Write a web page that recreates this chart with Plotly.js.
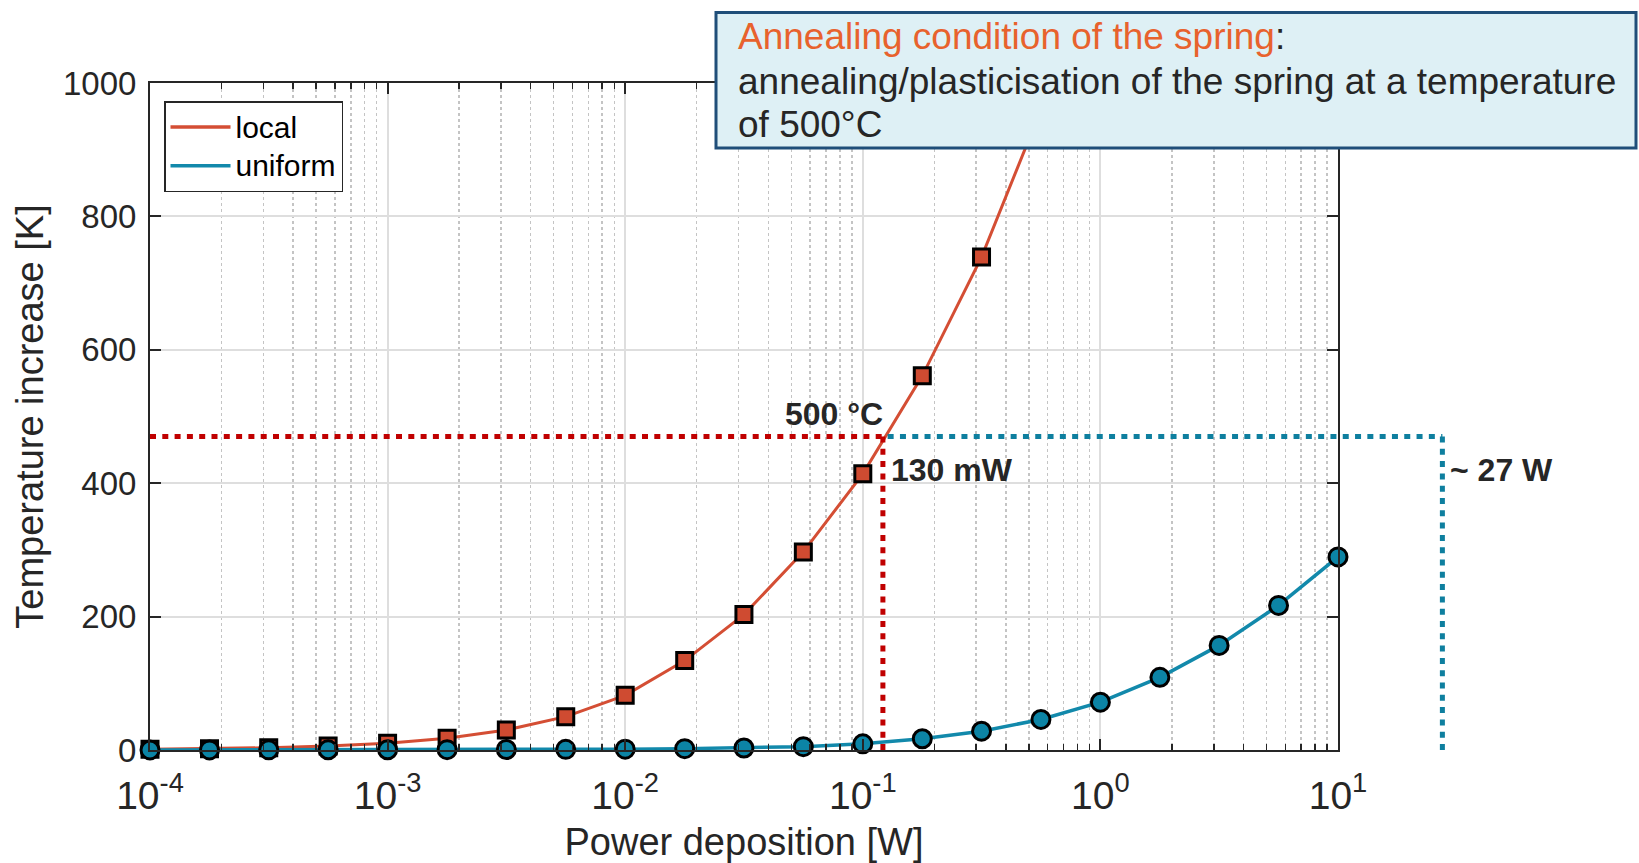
<!DOCTYPE html>
<html>
<head>
<meta charset="utf-8">
<script src="https://cdn.plot.ly/plotly-3.0.1.min.js"></script>
<style>
html,body{margin:0;padding:0;background:#ffffff;}
#chart{width:1639px;height:863px;}
</style>
</head>
<body>
<div id="chart"></div>
<script>
// ---------------- data ----------------
const power = [1.0e-4, 1.78e-4, 3.16e-4, 5.62e-4,
               1.0e-3, 1.78e-3, 3.16e-3, 5.62e-3,
               1.0e-2, 1.78e-2, 3.16e-2, 5.62e-2,
               0.1, 0.178, 0.316, 0.562,
               1.0, 1.78, 3.16, 5.62, 10.0];
const localPower = [1.0e-4, 1.78e-4, 3.16e-4, 5.62e-4,
                    1.0e-3, 1.78e-3, 3.16e-3, 5.62e-3,
                    1.0e-2, 1.78e-2, 3.16e-2, 5.62e-2,
                    0.1, 0.178, 0.316, 0.562];
const localTemp = [1, 2, 3.5, 6, 10, 17.5, 30, 50, 82, 134, 203, 297, 414, 561, 739, 960];
const uniformTemp = [0.1, 0.15, 0.2, 0.3, 0.4, 0.5, 0.7, 1, 1.3, 2, 3, 5, 9.3, 16.8, 28.2, 45.8, 71.7, 109, 156.8, 216.8, 289.5];
const seriesNames = ['local', 'uniform'];
const xTickVals = [1e-4, 1e-3, 1e-2, 1e-1, 1, 10];
const xTickText = ['10<sup>-4</sup>', '10<sup>-3</sup>', '10<sup>-2</sup>', '10<sup>-1</sup>', '10<sup>0</sup>', '10<sup>1</sup>'];
const yTickVals = [0, 200, 400, 600, 800, 1000];
const xRangeLog = [-4, 1];
const yRange = [0, 1000];
// annotation values
const thresholdK = 470;       // 500 °C line (temperature increase)
const powerLocal = 0.1215;    // 130 mW
const powerUniform = 27.5;    // ~27 W
const labelThreshold = '500 °C';
const labelLocal = '130 mW';
const labelUniform = '~ 27 W';
const boxTitle = 'Annealing condition of the spring';
const boxLine2 = 'annealing/plasticisation of the spring at a temperature';
const boxLine3 = 'of 500°C';

// ---------------- style ----------------
const FONT = 'Liberation Sans, Arial, Helvetica, sans-serif';
const TXT = '#262626';
const C_LOCAL = '#D44E34';
const C_LOCAL_FILL = '#CF4B31';
const C_UNI = '#1289AB';
const C_UNI_FILL = '#0C84A5';
const C_RED_DOT = '#C00000';
const C_TEAL_DOT = '#0E7F9F';

const M = {l: 150, r: 301, t: 83, b: 113};
const FIG_W = 1639, FIG_H = 863;
const PW = FIG_W - M.l - M.r, PH = FIG_H - M.t - M.b;
const px2x = px => (px - M.l) / PW;
const py2y = py => (FIG_H - M.b - py) / PH;
const logPaper = v => (Math.log10(v) - xRangeLog[0]) / (xRangeLog[1] - xRangeLog[0]);
const legendName = s => '<span style="font-size:30px">' + s + '</span>';

const traces = [
  {x: localPower, y: localTemp, type: 'scatter', mode: 'lines+markers', name: seriesNames[0], showlegend: false,
   line: {color: C_LOCAL, width: 3}, cliponaxis: false,
   marker: {symbol: 'square', size: 16, color: C_LOCAL_FILL, line: {color: '#000000', width: 3}}},
  {x: power, y: uniformTemp, type: 'scatter', mode: 'lines+markers', name: seriesNames[1], showlegend: false,
   line: {color: C_UNI, width: 3.5}, cliponaxis: false,
   marker: {symbol: 'circle', size: 18, color: C_UNI_FILL, line: {color: '#000000', width: 3}}},
  {x: [null], y: [null], type: 'scatter', mode: 'lines', name: legendName(seriesNames[0]), showlegend: true,
   line: {color: C_LOCAL, width: 3.5}},
  {x: [null], y: [null], type: 'scatter', mode: 'lines', name: legendName(seriesNames[1]), showlegend: true,
   line: {color: C_UNI, width: 3.5}}
];

const dotLine = (color) => ({color: color, width: 5, dash: '6px,6.3px'});

const shapes = [
  {type: 'line', xref: 'x', yref: 'y', x0: xTickVals[0], x1: powerLocal, y0: thresholdK, y1: thresholdK,
   line: dotLine(C_RED_DOT), layer: 'above'},
  {type: 'line', xref: 'x', yref: 'y', x0: powerLocal, x1: powerLocal, y0: thresholdK, y1: 0,
   line: dotLine(C_RED_DOT), layer: 'above'},
  {type: 'line', xref: 'paper', yref: 'y', x0: logPaper(powerLocal) + 0.004, x1: logPaper(powerUniform), y0: thresholdK, y1: thresholdK,
   line: dotLine(C_TEAL_DOT), layer: 'above'},
  {type: 'line', xref: 'paper', yref: 'y', x0: logPaper(powerUniform), x1: logPaper(powerUniform), y0: thresholdK, y1: 0,
   line: dotLine(C_TEAL_DOT), layer: 'above'},
  {type: 'rect', xref: 'paper', yref: 'paper', x0: px2x(716), x1: px2x(1636), y0: py2y(148), y1: py2y(12.5),
   fillcolor: '#DEF0F5', line: {color: '#1F4E79', width: 3}, layer: 'above'}
];

const BOX_FONT = 37;
const annotations = [
  {xref: 'paper', yref: 'paper', x: px2x(736), y: py2y(36), xanchor: 'left', yanchor: 'middle', showarrow: false,
   text: '<span style="color:#E8622D">' + boxTitle + '</span>:', font: {family: FONT, size: BOX_FONT, color: TXT}},
  {xref: 'paper', yref: 'paper', x: px2x(736), y: py2y(81), xanchor: 'left', yanchor: 'middle', showarrow: false,
   text: boxLine2, font: {family: FONT, size: BOX_FONT, color: TXT}},
  {xref: 'paper', yref: 'paper', x: px2x(736), y: py2y(125), xanchor: 'left', yanchor: 'middle', showarrow: false,
   text: boxLine3, font: {family: FONT, size: BOX_FONT, color: TXT}},
  {xref: 'x', yref: 'y', x: Math.log10(powerLocal), y: thresholdK, xanchor: 'right', yanchor: 'bottom', showarrow: false,
   xshift: 2, yshift: 3, text: '<b>' + labelThreshold + '</b>', font: {family: FONT, size: 32, color: TXT}},
  {xref: 'x', yref: 'y', x: Math.log10(powerLocal), y: 420, xanchor: 'left', yanchor: 'middle', showarrow: false,
   xshift: 6, text: '<b>' + labelLocal + '</b>', font: {family: FONT, size: 32, color: TXT}},
  {xref: 'paper', yref: 'y', x: logPaper(powerUniform), y: 420, xanchor: 'left', yanchor: 'middle', showarrow: false,
   xshift: 6, text: '<b>' + labelUniform + '</b>', font: {family: FONT, size: 32, color: TXT}}
];

const layout = {
  width: FIG_W, height: FIG_H,
  margin: M,
  paper_bgcolor: '#ffffff', plot_bgcolor: '#ffffff',
  font: {family: FONT, color: TXT, size: 32},
  showlegend: true,
  legend: {x: px2x(164), y: py2y(101), xanchor: 'left', yanchor: 'top',
           bgcolor: '#ffffff', bordercolor: '#262626', borderwidth: 1.5,
           font: {family: FONT, size: 27.5, color: '#000000'}, itemwidth: 60, tracegroupgap: 0},
  xaxis: {
    type: 'log', range: xRangeLog, autorange: false,
    tickmode: 'array', tickvals: xTickVals, ticktext: xTickText,
    ticks: 'inside', ticklen: 11, tickwidth: 2, tickcolor: TXT,
    showline: true, linecolor: TXT, linewidth: 2, mirror: 'ticks',
    showgrid: true, gridcolor: '#DEDEDE', gridwidth: 2,
    zeroline: false, ticklabelstandoff: 10,
    tickfont: {family: FONT, size: 39, color: TXT},
    minor: {dtick: 'D1', ticks: 'inside', ticklen: 6, tickwidth: 1.5, tickcolor: TXT,
            showgrid: true, gridcolor: '#C4C4C4', griddash: 'dot', gridwidth: 1.5},
    title: {text: 'Power deposition [W]', font: {family: FONT, size: 38, color: TXT}, standoff: 22},
    automargin: false
  },
  yaxis: {
    range: yRange, autorange: false,
    tickmode: 'array', tickvals: yTickVals,
    ticks: 'inside', ticklen: 11, tickwidth: 2, tickcolor: TXT,
    showline: true, linecolor: TXT, linewidth: 2, mirror: 'ticks',
    showgrid: true, gridcolor: '#DEDEDE', gridwidth: 2,
    zeroline: false, ticklabelstandoff: 5,
    tickfont: {family: FONT, size: 33, color: TXT},
    title: {text: 'Temperature increase [K]', font: {family: FONT, size: 38, color: TXT}, standoff: 8},
    automargin: false
  },
  shapes: shapes,
  annotations: annotations
};

Plotly.newPlot('chart', traces, layout, {displayModeBar: false, staticPlot: true});
</script>
</body>
</html>
